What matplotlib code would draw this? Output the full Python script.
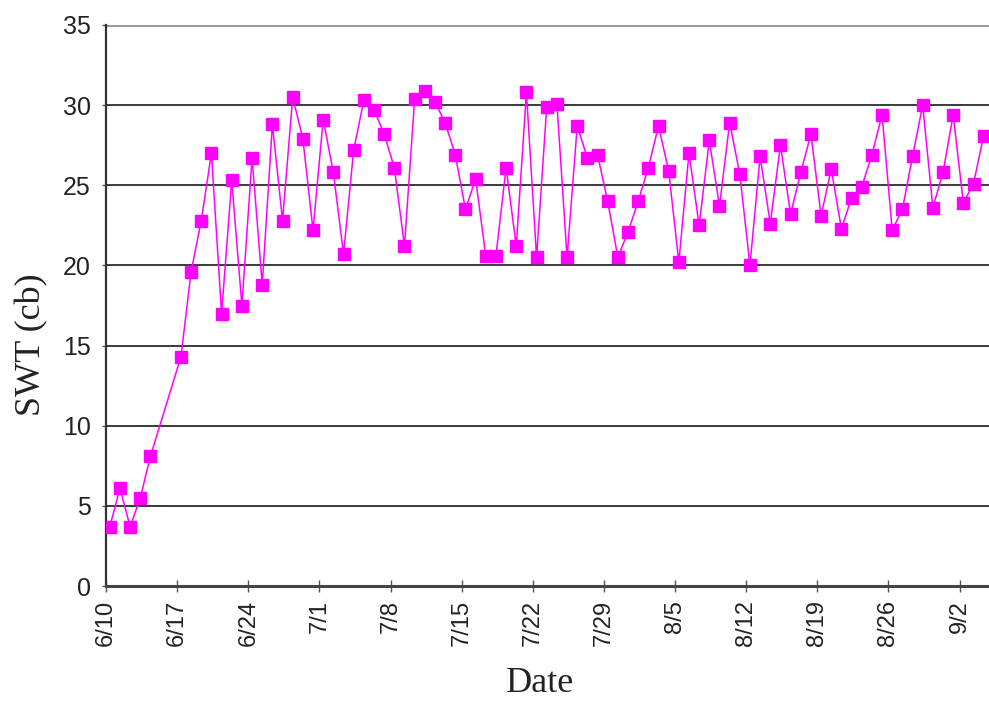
import datetime as dt
import matplotlib
matplotlib.use("Agg")
import matplotlib.pyplot as plt
import matplotlib.dates as mdates

# Reading dates (2000 season, month/day) and soil water tension (cb)
dates = (
    ["6/10", "6/11", "6/12", "6/13", "6/14"]
    + [f"6/{d}" for d in range(17, 31)]
    + [f"7/{d}" for d in range(1, 32)]
    + [f"8/{d}" for d in range(1, 32)]
    + ["9/1", "9/2", "9/3", "9/4"]
)
swt_june = [3.7, 6.1, 3.7, 5.5, 8.1,
            14.3, 19.6, 22.8, 27.0, 17.0, 25.3, 17.5, 26.7, 18.8, 28.8,
            22.8, 30.5, 27.9, 22.2]
swt_july = [29.1, 25.8, 20.7, 27.2, 30.3, 29.7, 28.2, 26.1, 21.2, 30.4,
            30.9, 30.2, 28.9, 26.9, 23.5, 25.4, 20.6, 20.6, 26.1, 21.2,
            30.8, 20.5, 29.9, 30.1, 20.5, 28.7, 26.7, 26.9, 24.0, 20.5,
            22.1]
swt_aug = [24.0, 26.1, 28.7, 25.9, 20.2, 27.0, 22.5, 27.8, 23.7, 28.9,
           25.7, 20.0, 26.8, 22.6, 27.5, 23.2, 25.8, 28.2, 23.1, 26.0,
           22.3, 24.2, 24.9, 26.9, 29.4, 22.2, 23.5, 26.8, 30.0, 23.6,
           25.8]
swt_sep = [29.4, 23.9, 25.1, 28.1]
swt = swt_june + swt_july + swt_aug + swt_sep

tick_labels = ["6/10", "6/17", "6/24", "7/1", "7/8", "7/15", "7/22", "7/29",
               "8/5", "8/12", "8/19", "8/26", "9/2"]
y_ticks = [0, 5, 10, 15, 20, 25, 30, 35]

YEAR = 2000
READ_HOUR = 9  # readings taken in the morning


def to_date(md, hour=0):
    m, d = md.split("/")
    return dt.datetime(YEAR, int(m), int(d), hour)


x = [to_date(d, READ_HOUR) for d in dates]
ticks = [to_date(t) for t in tick_labels]

fig = plt.figure(figsize=(9.89, 7.01), dpi=100)
ax = fig.add_axes([106 / 989, 1 - 586 / 701, 1 - 106 / 989, (586 - 25) / 701])

# horizontal grid lines
for yv in y_ticks[1:-1]:
    ax.axhline(yv, color="#3a3a3a", lw=1.4, zorder=1)
ax.axhline(35, color="#9a9a9a", lw=2.2, zorder=1)

ax.plot(x, swt, color="#ff00ff", lw=1.1, marker="s", markersize=9,
        markerfacecolor="#ff00ff", markeredgecolor="#ff00ff", zorder=3)

ax.set_ylim(0, 35)
start = to_date("6/10")
ax.set_xlim(start, start + dt.timedelta(days=86.9))
ax.set_yticks(y_ticks)
ax.set_yticklabels([str(v) for v in y_ticks], family="Liberation Sans",
                   fontsize=18, color="#222222")
ax.set_xticks(ticks)
ax.set_xticklabels(tick_labels, rotation=90, family="Liberation Sans",
                   fontsize=17, color="#222222")
ax.tick_params(axis="x", direction="inout", length=8, width=1,
               color="#555555", pad=6)
ax.tick_params(axis="y", direction="out", length=3, width=1,
               color="#555555", pad=8)

for side in ["top", "right"]:
    ax.spines[side].set_visible(False)
ax.spines["left"].set_color("#333333")
ax.spines["left"].set_linewidth(1.6)
ax.spines["bottom"].set_color("#444444")
ax.spines["bottom"].set_linewidth(2.2)

fig.text(32 / 989, 1 - 345 / 701, "SWT (cb)", rotation=90, ha="center",
         va="center", family="Liberation Serif", fontsize=26, color="#222222")
fig.text(540 / 989, 1 - 684 / 701, "Date", ha="center", va="center",
         family="Liberation Serif", fontsize=26, color="#222222")

fig.savefig("out.png", dpi=100)
